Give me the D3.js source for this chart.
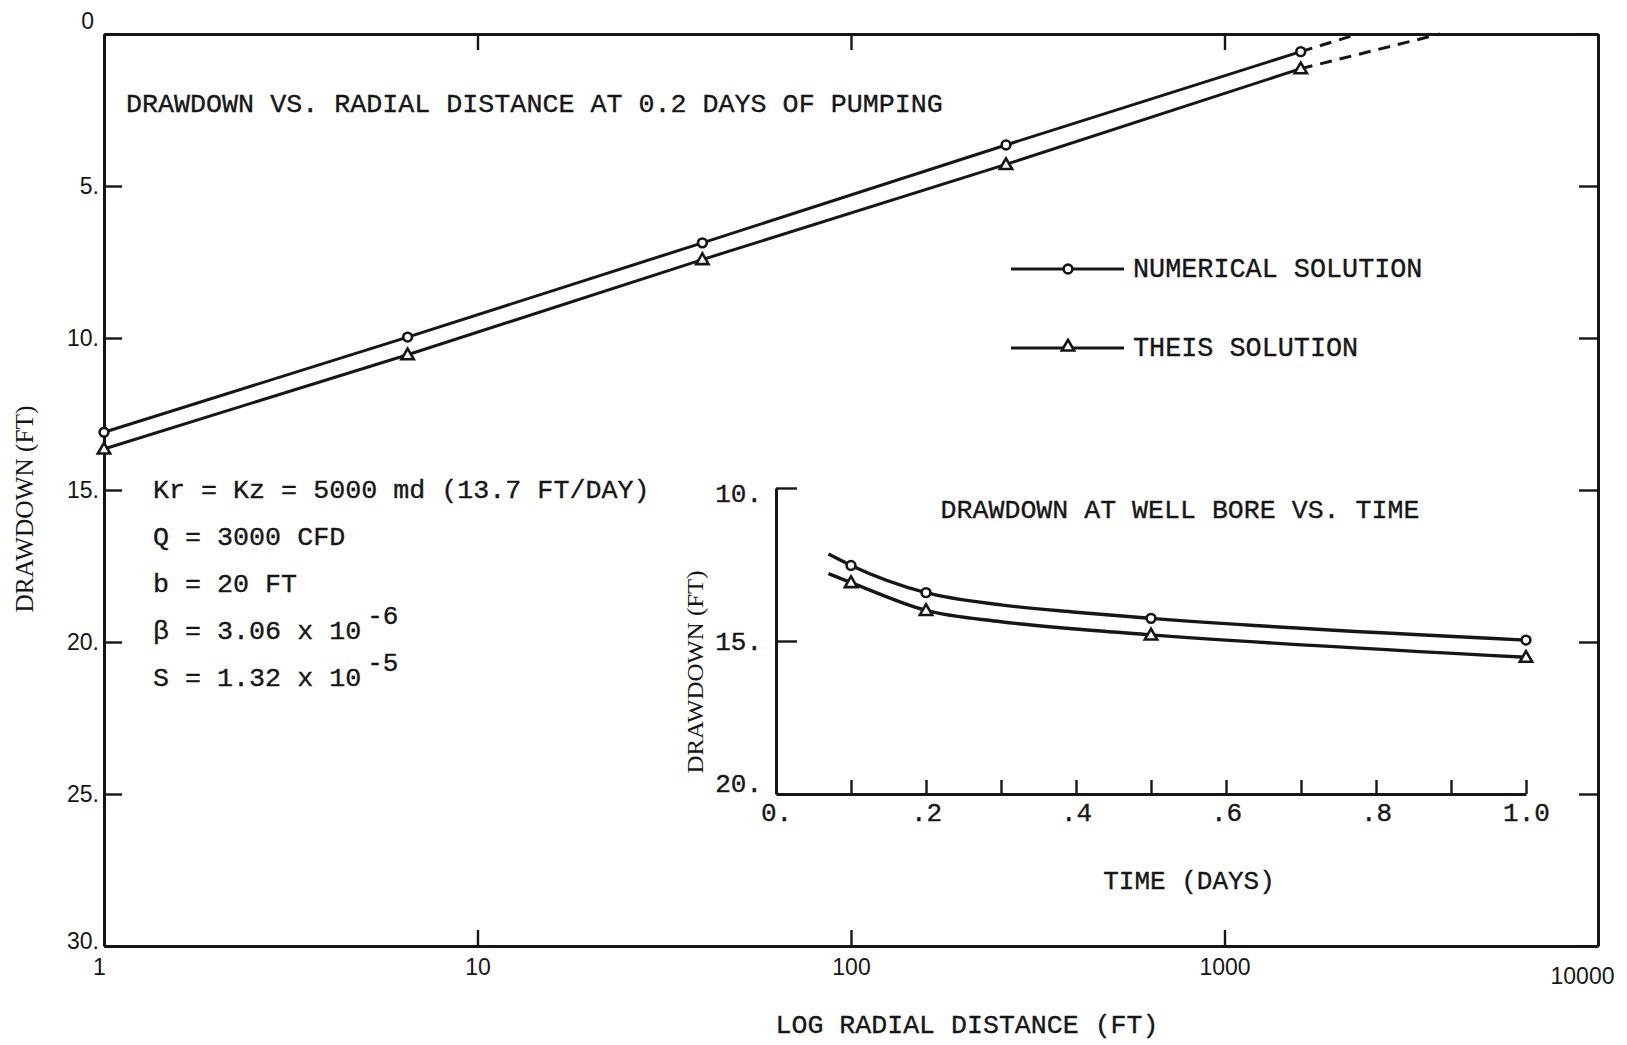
<!DOCTYPE html>
<html>
<head>
<meta charset="utf-8">
<script src="https://cdn.jsdelivr.net/npm/d3@7"></script>
<style>
  html, body { margin: 0; padding: 0; background: #ffffff; }
  svg { display: block; }
  .tw { stroke: #161616; stroke-width: 0.35px; }
</style>
</head>
<body>
<svg id="chart" width="1627" height="1045"></svg>
<script>
// ---------------- data ----------------
// Main plot: drawdown vs radial distance at 0.2 days of pumping
const radialDistance    = [1, 6.5, 40, 260, 1600];
const numericalDrawdown = [13.1, 9.97, 6.87, 3.65, 0.58];
const theisDrawdown     = [13.65, 10.55, 7.42, 4.29, 1.14];
// dashed extrapolations to zero drawdown
const numericalExtrapDistance = [1600, 2280];
const numericalExtrapDrawdown = [0.58, 0];
const theisExtrapDistance     = [1600, 3780];
const theisExtrapDrawdown     = [1.14, 0];

// Inset: drawdown at well bore vs time
const wellTime       = [0.07, 0.1, 0.2, 0.3, 0.4, 0.5, 1.0];
const wellNumerical  = [12.16, 12.53, 13.42, 13.82, 14.06, 14.26, 14.97];
const wellTheis      = [12.80, 13.09, 14.0, 14.37, 14.61, 14.80, 15.53];
const wellMarked     = [false, true, true, false, false, true, true];

// tick values / labels
const mainXTicks       = [1, 10, 100, 1000, 10000];
const mainXTickLabels  = ["1", "10", "100", "1000", "10000"];
const mainYTicks       = [0, 5, 10, 15, 20, 25, 30];
const mainYTickLabels  = ["0", "5.", "10.", "15.", "20.", "25.", "30."];
const insetXTicks      = [0, 0.1, 0.2, 0.3, 0.4, 0.5, 0.6, 0.7, 0.8, 0.9, 1.0];
const insetXTickLabels = ["0.", "", ".2", "", ".4", "", ".6", "", ".8", "", "1.0"];
const insetYTicks      = [10, 15, 20];
const insetYTickLabels = ["10.", "15.", "20."];

const titleMain   = "DRAWDOWN VS. RADIAL DISTANCE AT 0.2 DAYS OF PUMPING";
const titleInset  = "DRAWDOWN AT WELL BORE VS. TIME";
const legendNames = ["NUMERICAL SOLUTION", "THEIS SOLUTION"];
const xTitleMain  = "LOG RADIAL DISTANCE (FT)";
const yTitle      = "DRAWDOWN (FT)";
const xTitleInset = "TIME (DAYS)";
const paramLines  = [
  {text: "Kr = Kz = 5000 md (13.7 FT/DAY)", sup: ""},
  {text: "Q = 3000 CFD", sup: ""},
  {text: "b = 20 FT", sup: ""},
  {text: "\u03B2 = 3.06 x 10", sup: "-6"},
  {text: "S = 1.32 x 10", sup: "-5"}
];

// ---------------- drawing ----------------
const INK = "#161616";
const MONO = "'Liberation Mono', 'DejaVu Sans Mono', monospace";
const SANS = "'Liberation Sans', Arial, sans-serif";
const SERIF = "'Liberation Serif', 'DejaVu Serif', serif";

const svg = d3.select("#chart");
svg.append("rect").attr("width", 1627).attr("height", 1045).attr("fill", "#fff");

// scales
const x = d3.scaleLog().domain([1, 10000]).range([104, 1598]);
const y = d3.scaleLinear().domain([0, 30]).range([34, 946]);
const tx = d3.scaleLinear().domain([0, 1]).range([776, 1526]);
const ty = d3.scaleLinear().domain([10, 20]).range([488, 794]);

function styleAxis(g, fontFamily, fontSize, typewriter) {
  g.select(".domain").attr("stroke", INK).attr("stroke-width", 3);
  g.selectAll(".tick line").attr("stroke", INK).attr("stroke-width", 2.4);
  g.selectAll(".tick text").attr("fill", INK)
    .classed("tw", !!typewriter)
    .style("font-family", fontFamily).style("font-size", fontSize + "px");
  g.attr("font-family", null).attr("font-size", null);
}

// main box axes
const gBottom = svg.append("g").attr("transform", `translate(0,${y(30)})`)
  .call(d3.axisBottom(x).tickValues(mainXTicks)
    .tickFormat((d, i) => mainXTickLabels[i])
    .tickSizeInner(-16).tickSizeOuter(0).tickPadding(13));
styleAxis(gBottom, SANS, 23);
gBottom.selectAll(".tick text").each(function(d, i) {
  const t = d3.select(this);
  if (i === 0) t.attr("x", -5);
  if (i === mainXTicks.length - 1) t.attr("x", -16).attr("y", 22);
});

const gTop = svg.append("g").attr("transform", `translate(0,${y(0)})`)
  .call(d3.axisTop(x).tickValues(mainXTicks).tickFormat("")
    .tickSizeInner(-16).tickSizeOuter(0));
styleAxis(gTop, SANS, 23);

const gLeft = svg.append("g").attr("transform", `translate(${x(1)},0)`)
  .call(d3.axisLeft(y).tickValues(mainYTicks)
    .tickFormat((d, i) => mainYTickLabels[i])
    .tickSizeInner(-18).tickSizeOuter(0).tickPadding(5));
styleAxis(gLeft, SANS, 23);
gLeft.selectAll(".tick text").each(function(d, i) {
  const t = d3.select(this);
  if (i === 0) t.attr("x", -10).attr("y", -13);
  if (i === mainYTicks.length - 1) t.attr("y", -5);
});

const gRight = svg.append("g").attr("transform", `translate(${x(10000)},0)`)
  .call(d3.axisRight(y).tickValues(mainYTicks).tickFormat("")
    .tickSizeInner(-19).tickSizeOuter(0));
styleAxis(gRight, SANS, 23);

// main lines
const lineMain = d3.line().x(d => x(d[0])).y(d => y(d[1]));
const numPts = radialDistance.map((r, i) => [r, numericalDrawdown[i]]);
const theisPts = radialDistance.map((r, i) => [r, theisDrawdown[i]]);

svg.append("path").attr("d", lineMain(numPts))
  .attr("fill", "none").attr("stroke", INK).attr("stroke-width", 3);
svg.append("path").attr("d", lineMain(theisPts))
  .attr("fill", "none").attr("stroke", INK).attr("stroke-width", 3);

svg.append("path")
  .attr("d", lineMain(numericalExtrapDistance.map((r, i) => [r, numericalExtrapDrawdown[i]])))
  .attr("fill", "none").attr("stroke", INK).attr("stroke-width", 3)
  .attr("stroke-dasharray", "12,8");
svg.append("path")
  .attr("d", lineMain(theisExtrapDistance.map((r, i) => [r, theisExtrapDrawdown[i]])))
  .attr("fill", "none").attr("stroke", INK).attr("stroke-width", 3)
  .attr("stroke-dasharray", "12,8");

function circleMarker(g, cx, cy) {
  g.append("circle").attr("cx", cx).attr("cy", cy).attr("r", 4.4)
    .attr("fill", "#fff").attr("stroke", INK).attr("stroke-width", 2.6);
}
const triSym = d3.symbol().type(d3.symbolTriangle).size(66);
function triMarker(g, cx, cy) {
  g.append("path").attr("d", triSym())
    .attr("transform", `translate(${cx},${cy + 1})`)
    .attr("fill", "#fff").attr("stroke", INK).attr("stroke-width", 2.6);
}

const markers = svg.append("g");
numPts.forEach(p => circleMarker(markers, x(p[0]), y(p[1])));
theisPts.forEach(p => triMarker(markers, x(p[0]), y(p[1])));

// main title
svg.append("text").attr("class", "tw").attr("x", 126).attr("y", 112)
  .attr("fill", INK).style("font-family", MONO).style("font-size", "26.7px")
  .text(titleMain);

// legend
const legend = svg.append("g");
const legendY = [269, 348];
legendNames.forEach((name, i) => {
  legend.append("line").attr("x1", 1011).attr("x2", 1124)
    .attr("y1", legendY[i]).attr("y2", legendY[i])
    .attr("stroke", INK).attr("stroke-width", 3);
  if (i === 0) circleMarker(legend, 1068, legendY[i]);
  else triMarker(legend, 1068, legendY[i] - 2);
  legend.append("text").attr("class", "tw").attr("x", 1133).attr("y", legendY[i] + 8)
    .attr("fill", INK).style("font-family", MONO).style("font-size", "26.8px")
    .text(name);
});

// parameter block
const paramBaseY = [498, 545, 592, 639, 686];
paramLines.forEach((p, i) => {
  svg.append("text").attr("class", "tw").attr("x", 153).attr("y", paramBaseY[i])
    .attr("fill", INK).style("font-family", MONO).style("font-size", "26.7px")
    .text(p.text);
  if (p.sup) {
    svg.append("text").attr("class", "tw")
      .attr("x", 153 + p.text.length * 16.02 + 6).attr("y", paramBaseY[i] - 15)
      .attr("fill", INK).style("font-family", MONO).style("font-size", "26px")
      .text(p.sup);
  }
});

// axis titles (main)
svg.append("text").attr("class", "tw").attr("x", 967).attr("y", 1033).attr("text-anchor", "middle")
  .attr("fill", INK).style("font-family", MONO).style("font-size", "26.6px")
  .text(xTitleMain);
svg.append("text").attr("transform", `translate(33,509) rotate(-90)`)
  .attr("text-anchor", "middle")
  .attr("textLength", 207).attr("lengthAdjust", "spacingAndGlyphs")
  .attr("fill", INK).style("font-family", SERIF).style("font-size", "25px")
  .text(yTitle);

// ---------------- inset ----------------
const gInX = svg.append("g").attr("transform", `translate(0,${ty(20)})`)
  .call(d3.axisBottom(tx).tickValues(insetXTicks)
    .tickFormat((d, i) => insetXTickLabels[i])
    .tickSizeInner(-14).tickSizeOuter(0).tickPadding(9));
styleAxis(gInX, MONO, 26, true);
gInX.selectAll(".tick").filter(d => d === 0).select("line").remove();

const gInY = svg.append("g").attr("transform", `translate(${tx(0)},0)`)
  .call(d3.axisLeft(ty).tickValues(insetYTicks)
    .tickFormat((d, i) => insetYTickLabels[i])
    .tickSizeInner(-21).tickSizeOuter(0).tickPadding(14));
styleAxis(gInY, MONO, 26, true);
gInY.selectAll(".tick").filter(d => d === 20).select("line").remove();
gInY.selectAll(".tick text").each(function(d, i) {
  const t = d3.select(this);
  if (i === 0) t.attr("y", 5);
  if (i === insetYTicks.length - 1) t.attr("y", -11);
});

const lineInset = d3.line().x(d => tx(d[0])).y(d => ty(d[1])).curve(d3.curveMonotoneX);
const wNum = wellTime.map((t, i) => [t, wellNumerical[i]]);
const wTheis = wellTime.map((t, i) => [t, wellTheis[i]]);
svg.append("path").attr("d", lineInset(wNum))
  .attr("fill", "none").attr("stroke", INK).attr("stroke-width", 3.4);
svg.append("path").attr("d", lineInset(wTheis))
  .attr("fill", "none").attr("stroke", INK).attr("stroke-width", 3.4);

const inMarkers = svg.append("g");
wNum.forEach((p, i) => { if (wellMarked[i]) circleMarker(inMarkers, tx(p[0]), ty(p[1])); });
wTheis.forEach((p, i) => { if (wellMarked[i]) triMarker(inMarkers, tx(p[0]), ty(p[1])); });

svg.append("text").attr("class", "tw").attr("x", 1180).attr("y", 518).attr("text-anchor", "middle")
  .attr("fill", INK).style("font-family", MONO).style("font-size", "26.6px")
  .text(titleInset);
svg.append("text").attr("class", "tw").attr("x", 1189).attr("y", 889).attr("text-anchor", "middle")
  .attr("fill", INK).style("font-family", MONO).style("font-size", "26px")
  .text(xTitleInset);
svg.append("text").attr("transform", `translate(703,672) rotate(-90)`)
  .attr("text-anchor", "middle")
  .attr("textLength", 203).attr("lengthAdjust", "spacingAndGlyphs")
  .attr("fill", INK).style("font-family", SERIF).style("font-size", "24px")
  .text(yTitle);
</script>
</body>
</html>
